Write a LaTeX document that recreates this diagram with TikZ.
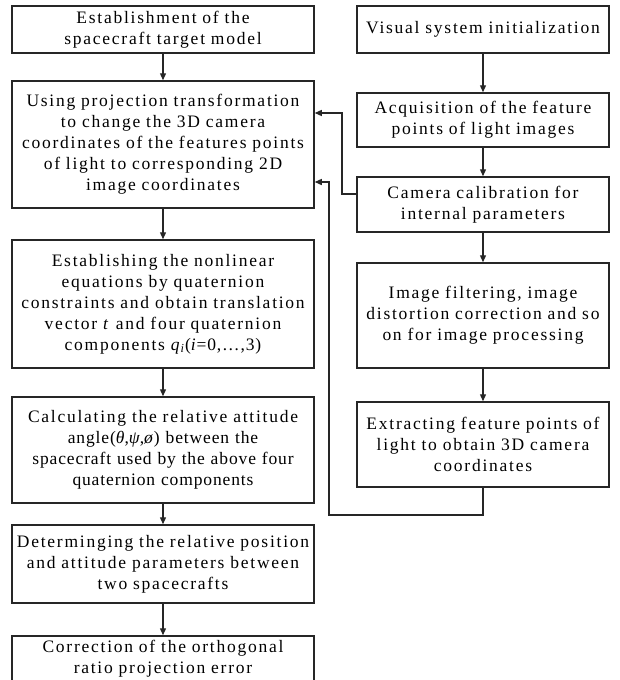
\documentclass[tikz,border=0pt]{standalone}
\usepackage{fontspec}
\setmainfont{Liberation Serif}[LetterSpace=10,WordSpace=2.1]
\newfontfamily\tightfont{Liberation Serif}[LetterSpace=5]
\usetikzlibrary{arrows.meta}
\begin{document}
\begin{tikzpicture}[x=1pt,y=1pt,
  box/.style={draw=black!85, line width=1.5pt, align=center, inner sep=0pt,
    font=\fontsize{17.5}{21}\selectfont},
  lbox/.style={box, minimum width=302pt, text width=300pt},
  rbox/.style={box, minimum width=252pt, text width=250pt},
  arr/.style={draw=black!85, line width=1.3pt, -{Triangle[length=7pt,width=6pt]}},
  ln/.style={draw=black!85, line width=1.3pt}]
\useasboundingbox (0,0) rectangle (619,-680);
% left column
\node[lbox, minimum height=47pt] (L1) at (163,-29.5) {Establishment of the\\spacecraft target model};
\node[lbox, minimum height=127pt] (L2) at (163,-144.5) {Using projection transformation\\to change the 3D camera\\coordinates of the features points\\of light to corresponding 2D\\image coordinates};
\node[lbox, minimum height=128pt] (L3) at (163,-304) {Establishing the nonlinear\\equations by quaternion\\constraints and obtain translation\\vector \textit{t} and four quaternion\\components {\tightfont\textit{q}\textsubscript{\textit{i}}(\textit{i}=0,…,3)}};
\node[lbox, minimum height=106pt] (L4) at (163,-450) {Calculating the relative attitude\\{\tightfont angle(\textit{θ},\textit{ψ},\textit{ø}) between the}\\{\tightfont spacecraft used by the above four}\\{\tightfont quaternion components}};
\node[lbox, minimum height=78pt] (L5) at (163,-564) {Determinging the relative position\\and attitude parameters between\\two spacecrafts};
\node[lbox, minimum height=46pt] (L6) at (163,-659) {Correction of the orthogonal\\ratio projection error};
% right column
\node[rbox, minimum height=47pt] (R1) at (483,-29.5) {Visual system initialization};
\node[rbox, minimum height=54pt] (R2) at (483,-120) {Acquisition of the feature\\points of light images};
\node[rbox, minimum height=55pt] (R3) at (483,-204.5) {Camera calibration for\\internal parameters};
\node[rbox, minimum height=105pt] (R4) at (483,-315.5) {Image filtering, image\\distortion correction and so\\on for image processing};
\node[rbox, minimum height=85pt] (R5) at (483,-444.5) {Extracting feature points of\\light to obtain 3D camera\\coordinates};
% vertical arrows
\draw[arr] (L1) -- (L2);
\draw[arr] (L2) -- (L3);
\draw[arr] (L3) -- (L4);
\draw[arr] (L4) -- (L5);
\draw[arr] (L5) -- (L6);
\draw[arr] (R1) -- (R2);
\draw[arr] (R2) -- (R3);
\draw[arr] (R3) -- (R4);
\draw[arr] (R4) -- (R5);
% feedback connectors
\coordinate (a1) at (R3.west |- 0,-194);
\coordinate (a2) at (342,-194);
\coordinate (a3) at (342,-113);
\coordinate (a4) at (L2.east |- 0,-113);
\draw[arr] (a1) -- (a2) -- (a3) -- (a4);
\coordinate (b1) at (483,-515);
\coordinate (b2) at (329,-515);
\coordinate (b3) at (329,-182);
\coordinate (b4) at (L2.east |- 0,-182);
\draw[arr] (R5.south) -- (b1) -- (b2) -- (b3) -- (b4);
\end{tikzpicture}
\end{document}
